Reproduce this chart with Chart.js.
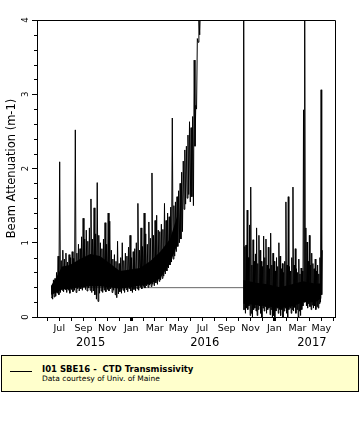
<!DOCTYPE html>
<html>
<head>
<meta charset="utf-8">
<script src="https://cdn.jsdelivr.net/npm/chart.js@4.4.1/dist/chart.umd.min.js"></script>
<style>
  html, body { margin: 0; padding: 0; background: #fff; }
  body { width: 360px; height: 440px; position: relative; overflow: hidden; font-family: "DejaVu Sans", sans-serif; }
  #wrap { position: absolute; left: 0; top: 0; width: 360px; height: 352px; }
  #legend { position: absolute; left: 1px; top: 355px; width: 356px; height: 35px; border: 1px solid #000; background: #ffffcc; }
  #legend .swatch { position: absolute; left: 8px; top: 15px; width: 22px; height: 0; border-top: 1px solid #000; }
  #legend .title { position: absolute; left: 40px; top: 8px; font-weight: bold; font-size: 8.5px; line-height: 10px; white-space: pre; color: #000; }
  #legend .sub { position: absolute; left: 40px; top: 18px; font-size: 7.5px; line-height: 9px; white-space: pre; color: #000; }
</style>
</head>
<body>
<div id="wrap"><canvas id="beam-chart"></canvas></div>
<div id="legend">
  <div class="swatch"></div>
  <div class="title">I01 SBE16 -  CTD Transmissivity</div>
  <div class="sub">Data courtesy of Univ. of Maine</div>
</div>
<script>
/* ----------------------------
   DATA
   Values read off the picture as a low / high envelope,
   one pair per sampling step.
   ---------------------------- */
var dep1Start = "2015-06-10";
var dep1StepDays = 4;
var dep1Low = [
  0.26, 0.24, 0.27, 0.28, 0.32, 0.30, 0.33, 0.36, 0.34, 0.37,
  0.33, 0.36, 0.32, 0.37, 0.34, 0.36, 0.33, 0.38, 0.35, 0.38,
  0.36, 0.40, 0.37, 0.35, 0.39, 0.36, 0.33, 0.35, 0.30, 0.24,
  0.21, 0.32, 0.35, 0.33, 0.36, 0.34, 0.37, 0.35, 0.38, 0.33,
  0.36, 0.30, 0.26, 0.31, 0.34, 0.32, 0.36, 0.33, 0.37, 0.34,
  0.38, 0.35, 0.33, 0.37, 0.35, 0.38, 0.36, 0.40, 0.38, 0.41,
  0.39, 0.42, 0.40, 0.43, 0.41, 0.44, 0.42, 0.46, 0.44, 0.48,
  0.50, 0.52, 0.55, 0.58, 0.62, 0.66, 0.70, 0.74, 0.78, 0.82,
  0.88, 0.95, 1.00, 1.05, 1.15, 1.45, 1.52, 1.60, 1.65, 1.55,
  1.62, 1.50, 2.30, 2.80, 3.70, 3.80, 4.10
];
var dep1High = [
  0.42, 0.50, 0.52, 0.60, 0.82, 2.09, 0.76, 0.90, 0.78, 0.86,
  0.74, 0.84, 0.80, 0.88, 0.79, 2.52, 0.86, 0.98, 0.92, 1.08,
  1.33, 1.05, 1.17, 1.02, 1.20, 1.59, 1.05, 1.47, 1.12, 1.81,
  1.10, 1.00, 0.92, 1.05, 1.27, 0.98, 1.40, 1.29, 0.90, 0.78,
  0.84, 0.75, 1.02, 0.72, 0.80, 1.00, 0.76, 0.86, 0.82, 0.94,
  1.10, 0.80, 0.88, 0.92, 1.00, 1.53, 0.90, 1.20, 0.95, 1.40,
  1.12, 0.98, 1.28, 1.06, 1.94, 1.10, 1.30, 1.37, 1.17, 1.15,
  1.25, 1.18, 1.53, 1.30, 1.40, 1.35, 1.48, 2.68, 1.50, 1.55,
  1.62, 1.70, 1.80, 1.95, 2.10, 2.25, 2.30, 2.45, 2.63, 2.55,
  2.70, 3.46, 2.85, 3.75, 4.05, 4.20, 4.30
];
// solid core of the first deployment (where the trace is packed black)
var dep1CoreDates = ["2015-06-10", "2015-06-25", "2015-07-08", "2015-07-28", "2015-08-23", "2015-09-18", "2015-10-13",
                     "2015-11-08", "2015-12-03", "2015-12-29", "2016-01-23", "2016-02-18", "2016-03-15", "2016-04-09", "2016-04-30"];
var dep1CoreTop    = [0.42, 0.55, 0.68, 0.70, 0.78, 0.85, 0.82, 0.72, 0.62, 0.64, 0.66, 0.75, 0.88, 1.05, 1.40];
var dep1CoreBottom = [0.30, 0.33, 0.37, 0.38, 0.40, 0.41, 0.41, 0.40, 0.38, 0.40, 0.42, 0.44, 0.52, 0.72, 1.00];

var dep2Start = "2016-10-13";
var dep2StepDays = 3;
var dep2Low = [
  0.10, 0.10, 0.05, 0.12, 0.10, 0.15, 0.02, 0.05, 0.00, 0.10,
  0.12, 0.08, 0.02, 0.10, 0.15, 0.05, 0.00, 0.12, 0.08, 0.14,
  0.05, 0.10, 0.12, 0.03, 0.10, 0.00, 0.02, 0.00, 0.08, 0.12,
  0.05, 0.10, 0.02, 0.10, 0.00, 0.08, 0.12, 0.05, 0.00, 0.10,
  0.12, 0.05, 0.10, 0.08, 0.13, 0.05, 0.10, 0.00, 0.08, 0.02,
  0.10, 0.15, 0.20, 0.25, 0.15, 0.12, 0.18, 0.14, 0.10, 0.16,
  0.12, 0.15, 0.10, 0.14, 0.12, 0.18, 0.20, 0.30
];
var dep2High = [
  4.30, 0.95, 0.97, 1.44, 0.80, 1.24, 1.75, 0.70, 1.04, 0.75,
  0.85, 1.20, 0.72, 1.10, 0.90, 0.75, 0.68, 1.09, 0.80, 1.05,
  0.70, 0.94, 0.65, 1.13, 0.70, 0.86, 0.75, 0.62, 0.80, 0.68,
  1.00, 0.82, 0.65, 0.72, 0.60, 0.75, 1.55, 0.70, 1.62, 0.68,
  0.62, 0.80, 1.75, 0.70, 0.92, 0.65, 0.60, 0.78, 0.58, 0.66,
  0.62, 2.79, 4.30, 1.20, 1.01, 0.75, 1.10, 0.70, 0.86, 0.72,
  0.65, 0.78, 0.62, 0.70, 0.58, 0.80, 3.06, 0.90
];
var dep2CoreDates  = ["2016-10-14", "2016-11-15", "2016-12-15", "2017-01-15", "2017-02-15", "2017-03-15", "2017-04-15", "2017-05-01"];
var dep2CoreTop    = [0.50, 0.46, 0.44, 0.40, 0.44, 0.48, 0.45, 0.45];
var dep2CoreBottom = [0.18, 0.16, 0.14, 0.12, 0.14, 0.20, 0.20, 0.25];

// flat line running under both deployments
var baseLevel = 0.395;
var baseFrom = "2015-06-10";
var baseTo = "2017-05-02";

// axis range and labels
var axisFrom = "2015-05-05";
var axisTo = "2017-06-05";
var monthNames = ["Jan", "Feb", "Mar", "Apr", "May", "Jun", "Jul", "Aug", "Sep", "Oct", "Nov", "Dec"];
var yearLabels = ["2015", "2016", "2017"];
var yearLabelDates = ["2015-09-19", "2016-07-07", "2017-04-07"];
var yMajorTicks = [0, 1, 2, 3, 4];
var yTitle = "Beam Attenuation (m-1)";

/* ----------------------------
   HELPERS
   x values are days since 1 Jan 2015
   ---------------------------- */
var EPOCH = Date.UTC(2015, 0, 1);

function dayOf(s) {
  var p = s.split("-");
  return (Date.UTC(+p[0], +p[1] - 1, +p[2]) - EPOCH) / 864e5;
}

// zig-zag between the low and high envelope
function buildPoints(start, step, lows, highs) {
  var d0 = dayOf(start);
  var pts = [];
  for (var i = 0; i < lows.length; i++) {
    pts.push({ x: d0 + i * step, y: lows[i] });
    pts.push({ x: d0 + i * step + step / 2, y: highs[i] });
  }
  return pts;
}

// closed outline: along the top, back along the bottom
function buildCore(dates, tops, bottoms) {
  var pts = [];
  for (var i = 0; i < dates.length; i++) { pts.push({ x: dayOf(dates[i]), y: tops[i] }); }
  for (var j = dates.length - 1; j >= 0; j--) { pts.push({ x: dayOf(dates[j]), y: bottoms[j] }); }
  return pts;
}

var xMin = dayOf(axisFrom);
var xMax = dayOf(axisTo);

var monthTicks = [];
for (var yr = 2015; yr <= 2017; yr++) {
  for (var m = 0; m < 12; m++) {
    var d = (Date.UTC(yr, m, 1) - EPOCH) / 864e5;
    if (d >= xMin && d <= xMax) { monthTicks.push({ value: d, month: m }); }
  }
}

var yearTicks = yearLabelDates.map(function (s) { return { value: dayOf(s) }; });

/* ----------------------------
   FRAME + MINOR TICKS PLUGIN
   ---------------------------- */
var framePlugin = {
  id: "frame",
  afterDraw: function (chart) {
    var ctx = chart.ctx;
    var a = chart.chartArea;
    var ys = chart.scales.y;
    ctx.save();
    ctx.strokeStyle = "#000";
    ctx.lineWidth = 1;
    ctx.beginPath();
    ctx.moveTo(a.left, a.top + 0.5);
    ctx.lineTo(a.right + 0.5, a.top + 0.5);
    ctx.lineTo(a.right + 0.5, a.bottom);
    ctx.stroke();
    // minor ticks every 0.2 on the value axis
    ctx.beginPath();
    for (var k = 1; k < 20; k++) {
      if (k % 5 === 0) { continue; }
      var py = Math.round(ys.getPixelForValue(k / 5)) + 0.5;
      ctx.moveTo(a.left - 3, py);
      ctx.lineTo(a.left, py);
    }
    ctx.stroke();
    ctx.restore();
  }
};

/* ----------------------------
   CHART
   ---------------------------- */
Chart.defaults.font.family = "'DejaVu Sans', sans-serif";
Chart.defaults.color = "#000";

var lineStyle = {
  borderColor: "#000",
  borderWidth: 1,
  pointRadius: 0,
  tension: 0,
  fill: false,
  order: 1
};

var coreStyle = {
  borderColor: "#000",
  borderWidth: 0,
  backgroundColor: "#000",
  pointRadius: 0,
  tension: 0,
  fill: "shape",
  order: 1
};

new Chart(document.getElementById("beam-chart").getContext("2d"), {
  type: "line",
  data: {
    datasets: [
      // drawn first, so the trace covers it
      Object.assign({ label: "base", data: [{ x: dayOf(baseFrom), y: baseLevel }, { x: dayOf(baseTo), y: baseLevel }] }, lineStyle, { borderColor: "#666", order: 10 }),
      Object.assign({ label: "I01 SBE16 - CTD Transmissivity", data: buildPoints(dep1Start, dep1StepDays, dep1Low, dep1High) }, lineStyle),
      Object.assign({ label: "core 1", data: buildCore(dep1CoreDates, dep1CoreTop, dep1CoreBottom) }, coreStyle),
      Object.assign({ label: "I01 SBE16 - CTD Transmissivity (2)", data: buildPoints(dep2Start, dep2StepDays, dep2Low, dep2High) }, lineStyle),
      Object.assign({ label: "core 2", data: buildCore(dep2CoreDates, dep2CoreTop, dep2CoreBottom) }, coreStyle)
    ]
  },
  options: {
    responsive: true,
    maintainAspectRatio: false,
    animation: false,
    layout: { padding: { top: 20, right: 25, left: 0, bottom: 0 } },
    plugins: {
      legend: { display: false },
      tooltip: { enabled: false }
    },
    scales: {
      x: {
        type: "linear",
        position: "bottom",
        min: xMin,
        max: xMax,
        afterBuildTicks: function (s) {
          s.ticks = monthTicks.map(function (t) { return { value: t.value }; });
        },
        afterFit: function (s) { s.height = 16; },
        ticks: {
          autoSkip: false,
          maxRotation: 0,
          minRotation: 0,
          padding: 2,
          color: "#000",
          font: { size: 9.5 },
          callback: function (v, i) {
            var mth = monthTicks[i].month;
            return mth % 2 === 0 ? monthNames[mth] : "";
          }
        },
        grid: {
          drawOnChartArea: false,
          tickLength: 4,
          tickColor: "#000",
          tickWidth: function (c) {
            var t = monthTicks[c.index];
            return t && t.month === 0 ? 3 : 1;
          }
        },
        border: { display: true, color: "#000", width: 1 }
      },
      xYear: {
        type: "linear",
        position: "bottom",
        min: xMin,
        max: xMax,
        afterBuildTicks: function (s) { s.ticks = yearTicks.slice(); },
        afterFit: function (s) { s.height = 19; },
        ticks: {
          autoSkip: false,
          maxRotation: 0,
          minRotation: 0,
          padding: 3,
          color: "#000",
          font: { size: 11.5 },
          callback: function (v, i) { return yearLabels[i]; }
        },
        grid: { display: false, drawTicks: false },
        border: { display: false }
      },
      y: {
        min: 0,
        max: 4,
        position: "left",
        afterBuildTicks: function (s) {
          s.ticks = yMajorTicks.map(function (v) { return { value: v }; });
        },
        afterFit: function (s) { s.width = 37; },
        ticks: {
          minRotation: 90,
          maxRotation: 90,
          crossAlign: "center",
          padding: 3,
          color: "#000",
          font: { size: 8.5 },
          callback: function (v) { return String(v); }
        },
        grid: { drawOnChartArea: false, tickLength: 5, tickColor: "#000" },
        border: { display: true, color: "#000", width: 1 },
        title: {
          display: true,
          text: yTitle,
          color: "#000",
          font: { size: 11.5 },
          padding: { top: 5, bottom: 0 }
        }
      }
    }
  },
  plugins: [framePlugin]
});
</script>
</body>
</html>
